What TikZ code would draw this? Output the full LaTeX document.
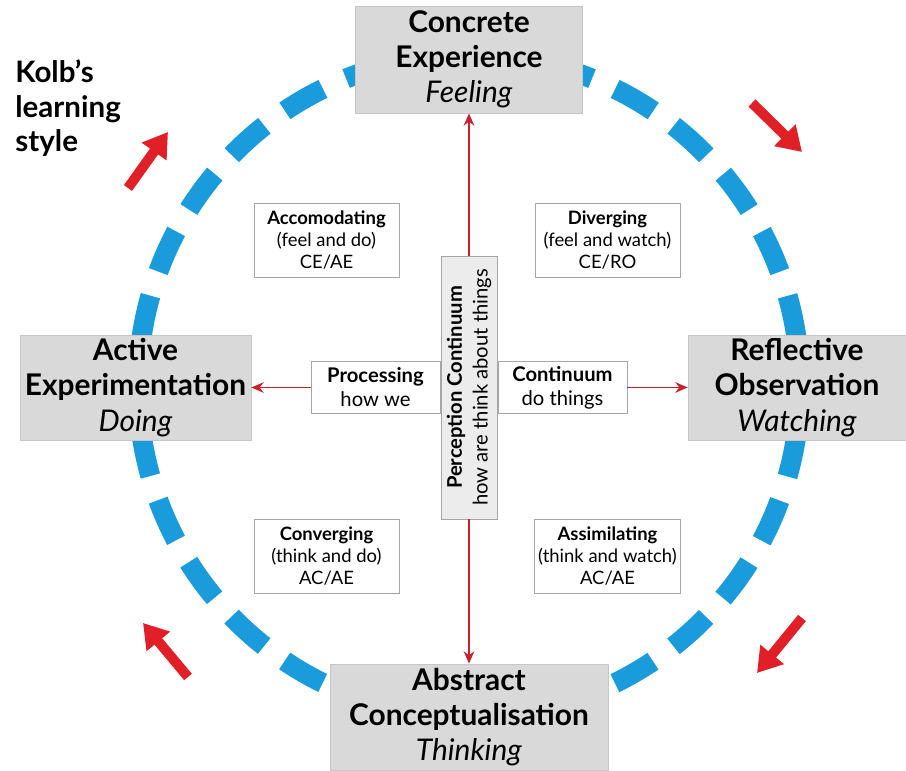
\documentclass[tikz,border=0pt]{standalone}
\usepackage{fontspec}
\setmainfont{Lato}
\usetikzlibrary{arrows.meta}
\definecolor{cycleblue}{HTML}{1A9BDB}
\definecolor{cyclered}{HTML}{E11F27}
\definecolor{axisred}{HTML}{C8202F}
\tikzstyle{stagebox} = [rectangle, draw=gray!45, fill=gray!30, align=center, inner sep=2pt, font=\fontsize{17}{20}\selectfont]
\tikzstyle{stylebox} = [rectangle, draw=gray!70, fill=white, minimum width=2.9cm, minimum height=1.48cm, align=center, inner sep=2pt, font=\fontsize{10.5}{12.6}\selectfont]
\tikzstyle{linkbox} = [rectangle, draw=gray!70, fill=white, minimum width=2.58cm, minimum height=1.04cm, align=center, inner sep=2pt, font=\fontsize{11.5}{13.6}\selectfont]
\tikzstyle{percbox} = [rectangle, draw=gray!70, fill=gray!15, minimum width=5.26cm, minimum height=1.12cm, align=center, inner sep=2pt, font=\fontsize{11.5}{14.7}\selectfont]
\tikzstyle{axisarrow} = [draw=axisred, line width=1.1pt, -{Stealth[length=7pt, width=6pt]}]
\tikzstyle{cyclearrow} = [draw=cyclered, line width=0.2cm, -{Triangle[width=0.58cm, length=0.48cm]}]

\begin{document}
\begin{tikzpicture}[node distance=1.87cm]
\useasboundingbox (-9.38,-7.67) rectangle (8.74,7.75);

\draw[cycleblue, line width=0.4cm, dash pattern=on 0.88cm off 0.50647cm, dash phase=0.44cm] (0,0.03) circle (6.62cm);

\node (kolb) [anchor=north west, align=left, inner sep=0pt, font=\bfseries\fontsize{16.8}{19.6}\selectfont] at (-9.08,6.56) {Kolb’s\\learning\\style};

\node (perc) [percbox, rotate=90] {\textbf{Perception Continuum}\\how are think about things};
\node (proc) [linkbox, left of=perc] {\textbf{Processing}\\how we};
\node (cont) [linkbox, right of=perc] {\textbf{Continuum}\\do things};

\node (ce) [stagebox, minimum width=4.54cm, minimum height=2.14cm, above of=perc, yshift=4.69cm] {\textbf{Concrete}\\\textbf{Experience}\\\textit{Feeling}};
\node (ae) [stagebox, minimum width=4.62cm, minimum height=2.1cm, left of=perc, xshift=-4.8cm] {\textbf{Active}\\\textbf{Experimentation}\\\textit{Doing}};
\node (ro) [stagebox, minimum width=4.36cm, minimum height=2.1cm, right of=perc, xshift=4.69cm] {\textbf{Reflective}\\\textbf{Observation}\\\textit{Watching}};
\node (ac) [stagebox, minimum width=5.56cm, minimum height=2.12cm, below of=perc, yshift=-4.72cm] {\textbf{Abstract}\\\textbf{Conceptualisation}\\\textit{Thinking}};

\node (acc) [stylebox, above of=proc, xshift=-0.98cm, yshift=1.08cm] {\textbf{Accomodating}\\(feel and do)\\CE/AE};
\node (div) [stylebox, above of=cont, xshift=0.9cm, yshift=1.08cm] {\textbf{Diverging}\\(feel and watch)\\CE/RO};
\node (con) [stylebox, below of=proc, xshift=-0.98cm, yshift=-1.5cm] {\textbf{Converging}\\(think and do)\\AC/AE};
\node (ass) [stylebox, below of=cont, xshift=0.9cm, yshift=-1.5cm] {\textbf{Assimilating}\\(think and watch)\\AC/AE};

\draw[axisarrow] (perc.east) -- (ce.south);
\draw[axisarrow] (perc.west) -- (ac.north);
\draw[axisarrow] (proc.west) -- (ae.east);
\draw[axisarrow] (cont.east) -- (ro.west);

\coordinate (tlfrom) at (-6.82,3.99);
\coordinate (tlto) at (-6.02,5.11);
\coordinate (trfrom) at (5.66,5.69);
\coordinate (trto) at (6.66,4.71);
\coordinate (brfrom) at (6.66,-4.61);
\coordinate (brto) at (5.76,-5.71);
\coordinate (blfrom) at (-5.62,-5.79);
\coordinate (blto) at (-6.52,-4.71);
\draw[cyclearrow] (tlfrom) -- (tlto);
\draw[cyclearrow] (trfrom) -- (trto);
\draw[cyclearrow] (brfrom) -- (brto);
\draw[cyclearrow] (blfrom) -- (blto);
\end{tikzpicture}
\end{document}
